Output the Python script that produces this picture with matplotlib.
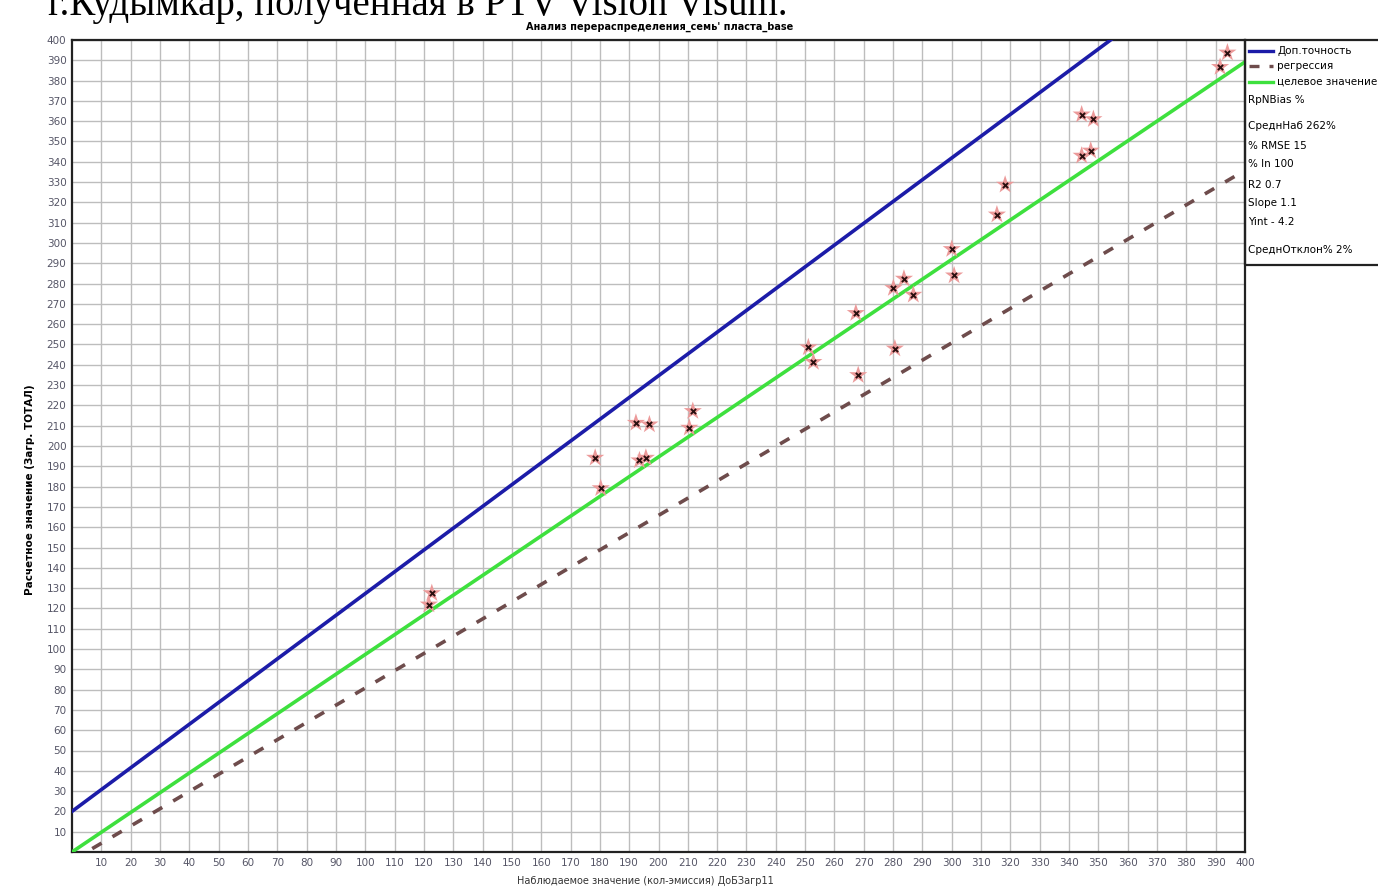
import matplotlib
matplotlib.use("Agg")
import matplotlib.pyplot as plt
from matplotlib.lines import Line2D
from matplotlib.patches import Rectangle
import numpy as np

obs = [122.7, 121.7, 178.4, 180.3, 192.3, 196.9, 193.5, 195.7, 211.7, 210.5,
       251.1, 252.8, 267.3, 268.1, 280.1, 283.7, 286.9, 280.6, 300.8, 300.0,
       315.4, 318.2, 344.3, 348.3, 344.3, 347.4, 394.0, 391.5]
calc = [127.5, 121.9, 194.2, 179.2, 211.4, 210.6, 192.9, 194.2, 217.2, 209.0,
        248.6, 241.4, 265.5, 234.9, 277.8, 282.4, 274.5, 248.0, 284.0, 297.0,
        314.0, 328.7, 363.3, 361.0, 343.0, 345.5, 393.8, 386.7]

# линии: (наклон, пересечение)
line_upper = (1.073, 20.0)
line_regr = (0.85, -4.2)
line_target = (0.973, 0.0)

ticks = list(range(10, 401, 10))
stats = ["RpNBias %", "СреднНаб 262%", "% RMSE 15", "% In 100",
         "R2 0.7", "Slope 1.1", "Yint - 4.2", "СреднОтклон% 2%"]
legend_names = ["Доп.точность", "регрессия", "целевое значение"]

W, H = 1378, 890
fig = plt.figure(figsize=(W / 100, H / 100), dpi=100)
ax = fig.add_axes([72 / W, 1 - 852 / H, (1245 - 72) / W, (852 - 40) / H])

xs = np.array([0, 400])
ax.plot(xs, line_upper[0] * xs + line_upper[1], color="#1c1ca8", lw=2.6, zorder=3)
ax.plot(xs, line_target[0] * xs + line_target[1], color="#3ee03e", lw=2.6, zorder=3)
ax.plot(xs, line_regr[0] * xs + line_regr[1], color="#6e4c4c", lw=2.6,
        dashes=(3, 3.5), zorder=3)

ax.scatter(obs, calc, marker="*", s=190, color="#ec9a9a", edgecolors="none", zorder=4)
ax.scatter(obs, calc, marker="x", s=14, color="#2a1010", linewidths=1.4, zorder=5)

ax.set_xlim(0, 400)
ax.set_ylim(0, 400)
ax.set_xticks(ticks)
ax.set_yticks(ticks)
ax.set_xticklabels([str(t) for t in ticks])
ax.set_yticklabels([str(t) for t in ticks])
ax.tick_params(length=0, labelsize=7.5, labelcolor="#555566", pad=4)
ax.grid(True, color="#bdbdbd", lw=1.0)
ax.set_axisbelow(True)
for s in ax.spines.values():
    s.set_linewidth(1.6)
    s.set_color("#222222")

# подписи осей и заголовок
fig.text(30 / W, 1 - 490 / H, "Расчетное значение (Загр. ТОТАЛ)", rotation=90,
         ha="center", va="center", fontsize=7.5, fontweight="bold")
fig.text(645 / W, 1 - 881 / H, "Наблюдаемое значение (кол-эмиссия) ДоБЗагр11",
         ha="center", va="center", fontsize=7, color="#333333")
fig.text(660 / W, 1 - 27 / H, "Анализ перераспределения_семь' пласта_base",
         ha="center", va="center", fontsize=7, fontweight="bold")
fig.text(48 / W, 1 - 15 / H, "г.Кудымкар, полученная в PTV Vision Visum.",
         ha="left", va="baseline", fontsize=28, family="Liberation Serif")

# легенда справа
fig.add_artist(Rectangle((1245 / W, 1 - 265 / H), 200 / W, 225 / H,
                         transform=fig.transFigure, fill=False,
                         ec="#222222", lw=1.6))
leg_styles = [dict(color="#1c1ca8"), dict(color="#6e4c4c", dashes=(3, 3)),
              dict(color="#3ee03e")]
leg_rows = [51, 66, 82]
for name, st, yy in zip(legend_names, leg_styles, leg_rows):
    fig.add_artist(Line2D([1249 / W, 1273 / W], [1 - yy / H, 1 - yy / H],
                          transform=fig.transFigure, lw=2.4, **st))
    fig.text(1277 / W, 1 - yy / H, name, ha="left", va="center", fontsize=7.5)
stat_rows = [100, 126, 146, 164, 185, 203, 222, 250]
for txt, yy in zip(stats, stat_rows):
    fig.text(1248 / W, 1 - yy / H, txt, ha="left", va="center", fontsize=7.5)

fig.savefig("out.png", dpi=100, facecolor="white")
